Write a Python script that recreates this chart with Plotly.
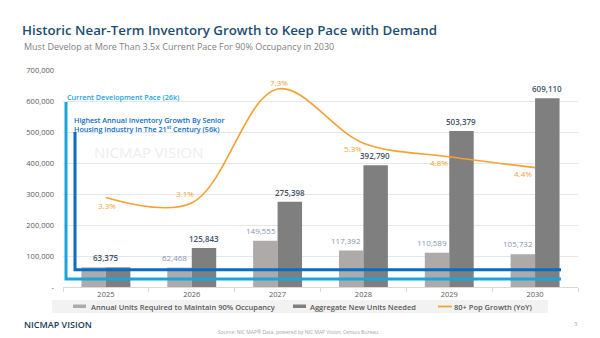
import plotly.graph_objects as go

# ---- data ----
years = ["2025", "2026", "2027", "2028", "2029", "2030"]
annual_units = [63375, 62468, 149555, 117392, 110589, 105732]
aggregate_units = [63375, 125843, 275398, 392790, 503379, 609110]
pop_growth = [0.033, 0.031, 0.073, 0.053, 0.048, 0.044]
current_pace = 26000
record_pace = 56000

y_ticks = [0, 100000, 200000, 300000, 400000, 500000, 600000, 700000]
y_tick_text = ["-", "100,000", "200,000", "300,000", "400,000", "500,000", "600,000", "700,000"]

name_annual = "Annual Units Required to Maintain 90% Occupancy"
name_aggregate = "Aggregate New Units Needed"
name_growth = "80+ Pop Growth (YoY)"

# ---- styling ----
FONT = "Open Sans"
C_LIGHT = "#aeaaaa"
C_DARK = "#7f7f7f"
C_ORANGE = "#f7a035"
C_CYAN = "#18a5db"
C_BLUE = "#0a6cc2"
C_TITLE = "#1b4d72"
C_AXIS = "#595959"

W, H = 600, 338
L, R, T, B = 63, 578, 70, 287


def fx(px):
    return (px - L) / (R - L)


def fy(py):
    return (B - py) / (B - T)


fig = go.Figure()

fig.add_trace(go.Bar(x=years, y=annual_units, name=name_annual,
                     marker=dict(color=C_LIGHT, line=dict(width=0)), showlegend=False))
fig.add_trace(go.Bar(x=years, y=aggregate_units, name=name_aggregate,
                     marker=dict(color=C_DARK, line=dict(width=0)), showlegend=False))
fig.add_trace(go.Scatter(x=years, y=pop_growth, name=name_growth, yaxis="y2",
                         mode="lines", line=dict(color=C_ORANGE, width=1.6, shape="spline", smoothing=1.0),
                         showlegend=False))

annotations = []

# bar value labels (x given as category index)
for i, (a, g) in enumerate(zip(annual_units, aggregate_units)):
    if a == g:
        annotations.append(dict(x=i, y=g, text=f"{g:,}", showarrow=False, yanchor="bottom", yshift=2,
                                font=dict(family=FONT, size=8, color="#44546a", weight=600)))
        continue
    annotations.append(dict(x=i, y=a, text=f"{a:,}", showarrow=False, yanchor="bottom", yshift=3,
                            xshift=-17, font=dict(family=FONT, size=8, color="#8497b0")))
    annotations.append(dict(x=i, y=g, text=f"{g:,}", showarrow=False, yanchor="bottom", yshift=2,
                            xshift=12, font=dict(family=FONT, size=8, color="#44546a", weight=600)))

# growth labels
growth_offsets = [(1, -8), (-7, 9), (1, 6), (-10, -5), (-10, -6), (-12, -6)]
for i, (v, (dx, dy)) in enumerate(zip(pop_growth, growth_offsets)):
    annotations.append(dict(x=i, y=v, yref="y2", text=f"{v * 100:.1f}%", showarrow=False,
                            xshift=dx, yshift=dy, font=dict(family=FONT, size=8, color=C_ORANGE)))

# pace callouts
annotations.append(dict(xref="paper", yref="paper", x=fx(65), y=fy(97), xanchor="left", yanchor="middle",
                        text=f"Current Development Pace ({current_pace // 1000}k)", showarrow=False,
                        font=dict(family=FONT, size=7.2, color=C_CYAN, weight=600)))
annotations.append(dict(xref="paper", yref="paper", x=fx(72), y=fy(124), xanchor="left", yanchor="middle",
                        align="left",
                        text=("Highest Annual Inventory Growth By Senior<br>"
                              f"Housing Industry In The 21<sup>st</sup> Century ({record_pace // 1000}k)"),
                        showarrow=False, font=dict(family=FONT, size=7.2, color=C_BLUE, weight=600)))

# faint watermark
annotations.append(dict(xref="paper", yref="paper", x=fx(148), y=fy(152), xanchor="center", yanchor="middle",
                        text="NICMAP VISION", showarrow=False,
                        font=dict(family=FONT, size=15, color="#eeeeee")))

# subtitle and footer
annotations.append(dict(xref="paper", yref="paper", x=fx(22), y=fy(47), xanchor="left", yanchor="middle",
                        text="Must Develop at More Than 3.5x Current Pace For 90% Occupancy in 2030",
                        showarrow=False, font=dict(family=FONT, size=9, color="#808080")))
annotations.append(dict(xref="paper", yref="paper", x=fx(22), y=fy(324), xanchor="left", yanchor="middle",
                        text="NICMAP VISION", showarrow=False,
                        font=dict(family=FONT, size=9, color="#1b3a5c", weight=600)))
annotations.append(dict(xref="paper", yref="paper", x=fx(298), y=fy(332), xanchor="center", yanchor="middle",
                        text="Source: NIC MAP® Data, powered by NIC MAP Vision; Census Bureau.", showarrow=False,
                        font=dict(family=FONT, size=5, color="#a6a6a6")))
annotations.append(dict(xref="paper", yref="paper", x=fx(576), y=fy(324), xanchor="center", yanchor="middle",
                        text="3", showarrow=False, font=dict(family=FONT, size=6, color="#a6a6a6")))

# legend (drawn by hand)
legend_items = [
    (name_annual, C_LIGHT, "bar", 73, 89),
    (name_aggregate, C_DARK, "bar", 293, 308),
    (name_growth, C_ORANGE, "line", 438, 452),
]
shapes = [dict(type="rect", xref="paper", yref="paper", x0=fx(52), x1=fx(548), y0=fy(313), y1=fy(300),
               fillcolor="#f2f2f2", line=dict(width=0), layer="below")]
for label, color, kind, sx, tx in legend_items:
    if kind == "bar":
        shapes.append(dict(type="rect", xref="paper", yref="paper", x0=fx(sx), x1=fx(sx + 13),
                           y0=fy(308), y1=fy(304.5), fillcolor=color, line=dict(width=0)))
    else:
        shapes.append(dict(type="line", xref="paper", yref="paper", x0=fx(sx), x1=fx(sx + 14),
                           y0=fy(306.5), y1=fy(306.5), line=dict(color=color, width=1.8)))
    annotations.append(dict(xref="paper", yref="paper", x=fx(tx), y=fy(306.5), xanchor="left",
                            yanchor="middle", text=label, showarrow=False,
                            font=dict(family=FONT, size=7.5, color=C_AXIS, weight=600)))

# pace bracket lines
shapes.append(dict(type="path", xref="paper", yref="y",
                   path=f"M {fx(66)},597000 L {fx(66)},{current_pace} L {fx(561)},{current_pace}",
                   line=dict(color=C_CYAN, width=3)))
shapes.append(dict(type="path", xref="paper", yref="y",
                   path=f"M {fx(75)},500000 L {fx(75)},{record_pace} L {fx(561)},{record_pace}",
                   line=dict(color=C_BLUE, width=3)))

fig.update_layout(
    width=W, height=H,
    margin=dict(l=L, r=W - R, t=T, b=H - B, pad=0),
    paper_bgcolor="white", plot_bgcolor="white",
    barmode="group", bargap=0.43, bargroupgap=0,
    font=dict(family=FONT, color=C_AXIS),
    title=dict(text="Historic Near-Term Inventory Growth to Keep Pace with Demand",
               x=22 / W, xanchor="left", xref="container", y=1 - 30 / H, yanchor="middle", yref="container",
               font=dict(family=FONT, size=13.3, color=C_TITLE, weight=600)),
    xaxis=dict(type="category", range=[-0.5, len(years) - 0.5], showgrid=False, showline=True,
               linecolor="#d9d9d9", linewidth=1,
               ticks="outside", tickson="boundaries", ticklen=4, tickcolor="#d9d9d9",
               tickfont=dict(family=FONT, size=7.5, color=C_AXIS), automargin=False),
    yaxis=dict(range=[0, 700000], tickvals=y_ticks, ticktext=y_tick_text, showgrid=True,
               gridcolor="#e6e6e6", gridwidth=1, zeroline=False, showline=False, ticks="",
               ticklabelstandoff=8, tickfont=dict(family=FONT, size=7.5, color=C_AXIS), automargin=False),
    yaxis2=dict(range=[0, 0.08], overlaying="y", side="right", visible=False),
    annotations=annotations,
    shapes=shapes,
    showlegend=False,
)

fig.write_html("out.html")
